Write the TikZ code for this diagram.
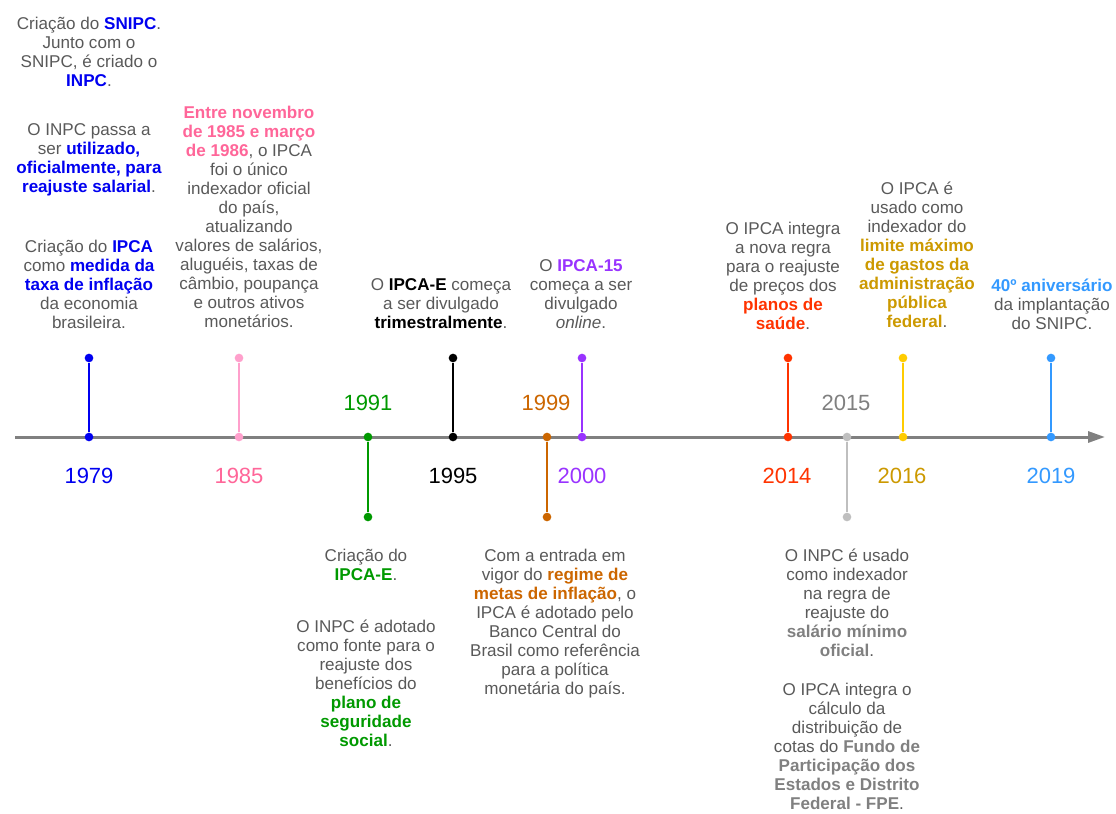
\documentclass[tikz,border=0pt]{standalone}
\usepackage{fontspec}
\setmainfont{Liberation Sans}
\usetikzlibrary{arrows.meta}

\definecolor{txtgray}{RGB}{89,89,89}
\definecolor{axisgray}{RGB}{128,128,128}
\definecolor{c79}{RGB}{0,0,240}
\definecolor{c85}{RGB}{255,102,153}
\definecolor{c85l}{RGB}{255,160,204}
\definecolor{c91}{RGB}{0,153,0}
\definecolor{c95}{RGB}{0,0,0}
\definecolor{c99}{RGB}{204,102,0}
\definecolor{c00}{RGB}{153,51,255}
\definecolor{c14}{RGB}{255,51,0}
\definecolor{c15}{RGB}{128,128,128}
\definecolor{c15l}{RGB}{191,191,191}
\definecolor{c16}{RGB}{204,153,0}
\definecolor{c16l}{RGB}{255,204,0}
\definecolor{c19}{RGB}{51,153,255}

\newcommand{\hb}[2]{\textbf{\textcolor{#1}{#2}}}

\tikzset{
  evtext/.style={align=center, inner sep=0pt, anchor=north, text=txtgray,
    font=\fontsize{12.8}{14.25}\selectfont},
  yearlab/.style={inner sep=0pt, font=\fontsize{16.5}{18}\selectfont},
  dot/.style={circle, inner sep=0pt, minimum size=6.5pt},
  stem/.style={line width=1.5pt},
}

\begin{document}
\begin{tikzpicture}[x=0.75pt,y=-0.75pt]
\useasboundingbox (0,0) rectangle (1116,813);

% Time axis
\coordinate (axisL) at (15,437);
\coordinate (axisR) at (1105,437);
\draw[axisgray,line width=2.25pt,-{Triangle[length=12.75pt,width=8.25pt]}] (axisL) -- (axisR);

% Event markers
\foreach \yr/\xx/\yy/\col in {1979/89/358/c79, 1985/239/358/c85l, 1991/368/517/c91,
    1995/453/358/c95, 1999/547/517/c99, 2000/582/358/c00, 2014/788/358/c14,
    2015/847/517/c15l, 2016/903/358/c16l, 2019/1051/358/c19} {
  \node[dot,fill=\col] (on\yr) at (\xx,437) {};
  \node[dot,fill=\col] (end\yr) at (\xx,\yy) {};
  \draw[stem,\col] (on\yr) -- (end\yr);
}

% Years
\foreach \yr/\xx/\yy/\col in {1979/89/476/c79, 1985/239/476/c85, 1991/368/403/c91,
    1995/453/476/c95, 1999/546/403/c99, 2000/582/476/c00, 2014/787/476/c14,
    2015/846/403/c15, 2016/902/476/c16, 2019/1051/476/c19}
  \node[yearlab,text=\col] (lab\yr) at (\xx,\yy) {\yr};

% Texts above the axis
\node[evtext] (txt1979) at (89,16) {\strut Criação do \hb{c79}{SNIPC}.\\
  Junto com o\\ SNIPC, é criado o\\ \hb{c79}{INPC}.\\[22.5pt]
  O INPC passa a\\ ser \hb{c79}{utilizado,}\\ \hb{c79}{oficialmente, para}\\
  \hb{c79}{reajuste salarial}.\\[30.75pt]
  Criação do \hb{c79}{IPCA}\\ como \hb{c79}{medida da}\\ \hb{c79}{taxa de inflação}\\
  da economia\\ brasileira.};

\node[evtext] (txt1985) at (249,105) {\strut\hb{c85}{Entre novembro}\\
  \hb{c85}{de 1985 e março}\\ \hb{c85}{de 1986}, o IPCA\\ foi o único\\
  indexador oficial\\ do país,\\ atualizando\\ valores de salários,\\
  aluguéis, taxas de\\ câmbio, poupança\\ e outros ativos\\ monetários.};

\node[evtext] (txt1995) at (441,277) {\strut O \hb{c95}{IPCA-E} começa\\
  a ser divulgado\\ \hb{c95}{trimestralmente}.};

\node[evtext] (txt2000) at (581,258) {\strut O \hb{c00}{IPCA-15}\\
  começa a ser\\ divulgado\\ \textit{online}.};

\node[evtext] (txt2014) at (783,221) {\strut O IPCA integra\\ a nova regra\\
  para o reajuste\\ de preços dos\\ \hb{c14}{planos de}\\ \hb{c14}{saúde}.};

\node[evtext] (txt2016) at (917,181) {\strut O IPCA é\\ usado como\\
  indexador do\\ \hb{c16}{limite máximo}\\ \hb{c16}{de gastos da}\\
  \hb{c16}{administração}\\ \hb{c16}{pública}\\ \hb{c16}{federal}.};

\node[evtext] (txt2019) at (1052,278) {\strut\hb{c19}{40º aniversário}\\
  da implantação\\ do SNIPC.};

% Texts below the axis
\node[evtext] (txt1991) at (366,548) {\strut Criação do\\ \hb{c91}{IPCA-E}.\\[24.75pt]
  O INPC é adotado\\ como fonte para o\\ reajuste dos\\ benefícios do\\
  \hb{c91}{plano de}\\ \hb{c91}{seguridade}\\ \hb{c91}{social}.};

\node[evtext] (txt1999) at (555,548) {\strut Com a entrada em\\
  vigor do \hb{c99}{regime de}\\ \hb{c99}{metas de inflação}, o\\
  IPCA é adotado pelo\\ Banco Central do\\ Brasil como referência\\
  para a política\\ monetária do país.};

\node[evtext] (txt2015) at (847,548) {\strut O INPC é usado\\ como indexador\\
  na regra de\\ reajuste do\\ \hb{c15}{salário mínimo}\\ \hb{c15}{oficial}.\\[15pt]
  O IPCA integra o\\ cálculo da\\ distribuição de\\ cotas do \hb{c15}{Fundo de}\\
  \hb{c15}{Participação dos}\\ \hb{c15}{Estados e Distrito}\\ \hb{c15}{Federal - FPE}.};

\end{tikzpicture}
\end{document}
